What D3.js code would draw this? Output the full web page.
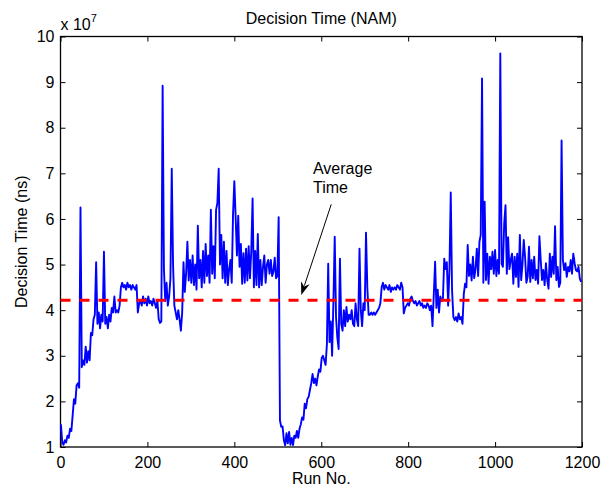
<!DOCTYPE html>
<html>
<head>
<meta charset="utf-8">
<script src="https://cdn.jsdelivr.net/npm/d3@7"></script>
<style>
  body { margin: 0; background: #fff; }
  svg { display: block; }
  text { font-family: "Liberation Sans", Arial, sans-serif; fill: #000; }
  .tick line { stroke: #000; stroke-width: 1; }
</style>
</head>
<body>
<svg class="chart" width="612" height="489"></svg>
<script>
// decision time, in units of 10^7 ns, one reading every 3 runs starting at run 1
const firstRun = 1
const runStep = 3
const decisionTime = [
  1.5, 1.1, 1.05, 1.15, 1.1, 1.25, 1.2, 1.4, 1.35, 1.7,
  2.05, 1.95, 2.35, 2.4, 2.3, 6.25, 2.75, 2.9, 2.8, 3.2,
  2.85, 3.1, 2.9, 3.5, 3.45, 3.8, 3.9, 5.05, 3.7, 3.95,
  3.6, 3.9, 3.75, 5.28, 3.7, 3.85, 3.6, 3.9, 3.75, 4.05,
  3.95, 4.3, 3.95, 4.0, 3.95, 4.1, 4.5, 4.6, 4.5, 4.55,
  4.45, 4.6, 4.5, 4.55, 4.45, 4.55, 4.5, 4.45, 4.55, 3.95,
  4.15, 4.2, 4.1, 4.3, 4.15, 4.25, 4.1, 4.3, 4.15, 4.2,
  4.1, 4.25, 4.15, 4.05, 4.2, 3.8, 3.72, 3.75, 8.92, 4.9,
  4.2, 4.6, 4.1, 4.3, 4.7, 7.1, 5.0, 4.1, 3.95, 3.8,
  4.0, 3.8, 3.55, 3.95, 5.05, 4.4, 4.8, 5.5, 4.65, 5.1,
  4.6, 5.2, 4.55, 5.0, 4.45, 5.85, 4.7, 5.1, 4.5, 5.3,
  4.6, 5.45, 4.75, 5.2, 4.6, 6.2, 4.8, 5.4, 4.7, 6.2,
  6.35, 7.1, 5.0, 5.65, 4.7, 5.5, 4.6, 5.3, 4.55, 4.9,
  5.1, 4.6, 6.1, 6.83, 6.05, 5.2, 6.07, 4.95, 5.45, 4.58,
  5.25, 4.6, 5.35, 4.65, 5.4, 4.7, 5.3, 6.45, 4.5, 5.3,
  4.55, 5.67, 4.5, 5.1, 4.55, 4.95, 5.2, 4.6, 5.0, 5.1,
  4.8, 5.1, 4.75, 4.85, 5.15, 4.7, 4.75, 6.04, 1.58, 1.44,
  1.45, 1.15, 1.04, 1.3, 1.08, 1.33, 1.05, 1.2, 1.04, 1.25,
  1.2, 1.35, 1.2, 1.4, 1.5, 1.65, 1.6, 1.95, 1.85, 2.05,
  2.1, 2.25, 2.4, 2.6, 2.4, 2.5, 2.35, 2.55, 2.7, 2.65,
  2.95, 3.0, 2.9, 2.8, 3.25, 5.02, 3.3, 3.75, 3.0, 4.2,
  5.61, 3.85, 3.4, 3.15, 5.13, 3.7, 3.55, 4.0, 3.65, 4.07,
  3.75, 3.9, 3.8, 4.0, 3.7, 3.65, 4.15, 3.8, 3.65, 5.35,
  4.0, 3.65, 4.15, 4.0, 5.7, 4.5, 3.9, 3.9, 3.95, 3.9,
  3.95, 3.9, 3.95, 4.0, 4.05, 4.15, 4.5, 4.6, 4.45, 4.55,
  4.5, 4.45, 4.55, 4.4, 4.5, 4.45, 4.5, 4.45, 4.55, 4.5,
  4.45, 4.6, 4.5, 3.93, 4.05, 4.1, 4.15, 4.1, 4.25, 4.3,
  4.2, 4.15, 4.2, 4.1, 4.15, 4.2, 4.1, 4.15, 4.05, 4.1,
  4.05, 4.15, 4.1, 4.0, 4.1, 3.65, 4.35, 5.06, 4.05, 4.45,
  3.95, 4.3, 4.2, 4.25, 5.13, 4.9, 5.05, 4.1, 4.9, 6.58,
  4.44, 3.85, 3.78, 3.85, 3.75, 3.93, 3.8, 3.85, 3.7, 4.35,
  4.58, 4.5, 5.43, 4.75, 5.0, 4.65, 5.17, 4.7, 4.9, 5.35,
  4.75, 5.5, 5.65, 9.08, 4.6, 6.38, 4.66, 5.24, 4.58, 5.17,
  4.9, 5.28, 4.8, 5.32, 4.75, 5.1, 4.8, 9.63, 5.02, 4.95,
  5.9, 6.3, 4.8, 5.6, 4.9, 5.1, 5.24, 4.58, 5.17, 4.73,
  5.24, 4.51, 5.65, 4.66, 5.0, 5.54, 5.17, 4.6, 4.73, 5.39,
  4.62, 5.1, 4.7, 5.17, 4.66, 4.88, 4.58, 5.62, 5.1, 4.66,
  4.88, 4.55, 5.03, 4.66, 4.47, 5.24, 4.73, 5.17, 4.8, 5.84,
  4.66, 4.95, 4.51, 4.6, 7.72, 5.1, 4.88, 5.03, 4.73, 4.95,
  4.85, 5.1, 4.8, 5.24, 5.03, 4.88, 4.85, 4.95, 4.69, 4.62
]
const averageTime = 4.22

const xTicks = [0, 200, 400, 600, 800, 1000, 1200]
const yTicks = [1, 2, 3, 4, 5, 6, 7, 8, 9, 10]
const yExponent = "7"

const titleText = "Decision Time (NAM)"
const xLabel = "Run No."
const yLabel = "Decision Time (ns)"
const noteLines = ["Average", "Time"]
// annotation in data units: text corner, arrow tail, arrow tip
const notePos = [581, 6.98]
const arrowFrom = [623, 6.32]
const arrowTo = [554, 4.33]

const svg = d3.select("svg.chart")
const plotLeft = 60.5, plotRight = 582, plotTop = 36.5, plotBottom = 447

const x = d3.scaleLinear().domain([0, 1200]).range([plotLeft, plotRight])
const y = d3.scaleLinear().domain([1, 10]).range([plotBottom, plotTop])

const runs = decisionTime.map((d, i) => firstRun + i * runStep)

// axes, ticks pointing inward on all four sides
svg.append("g")
    .attr("transform", "translate(0," + plotBottom + ")")
    .call(d3.axisBottom(x).tickValues(xTicks).tickFormat(d3.format("d")).tickSize(-5).tickSizeOuter(0).tickPadding(10))
svg.append("g")
    .attr("transform", "translate(0," + plotTop + ")")
    .call(d3.axisTop(x).tickValues(xTicks).tickFormat("").tickSize(-5).tickSizeOuter(0))
svg.append("g")
    .attr("transform", "translate(" + plotLeft + ",0)")
    .call(d3.axisLeft(y).tickValues(yTicks).tickFormat(d3.format("d")).tickSize(-5).tickSizeOuter(0).tickPadding(6))
svg.append("g")
    .attr("transform", "translate(" + plotRight + ",0)")
    .call(d3.axisRight(y).tickValues(yTicks).tickFormat("").tickSize(-5).tickSizeOuter(0))

svg.selectAll(".domain").remove()
svg.selectAll(".tick text")
    .style("font-size", "16px")
    .style("font-family", "'Liberation Sans', Arial, sans-serif")
    .attr("fill", "#000")

svg.append("rect")
    .attr("x", plotLeft)
    .attr("y", plotTop)
    .attr("width", plotRight - plotLeft)
    .attr("height", plotBottom - plotTop)
    .attr("fill", "none")
    .attr("stroke", "#000")
    .attr("stroke-width", 1.3)

// series
const line = d3.line()
    .x((d, i) => x(runs[i]))
    .y(d => y(d))

svg.append("path")
    .datum(decisionTime)
    .attr("d", line)
    .attr("fill", "none")
    .attr("stroke", "#0000ff")
    .attr("stroke-width", 1.9)
    .attr("stroke-linejoin", "round")

// average
svg.append("line")
    .attr("x1", x(0))
    .attr("x2", x(1200))
    .attr("y1", y(averageTime))
    .attr("y2", y(averageTime))
    .attr("stroke", "#ff0000")
    .attr("stroke-width", 3)
    .attr("stroke-dasharray", "10,9")

// texts
svg.append("text")
    .attr("x", (plotLeft + plotRight) / 2)
    .attr("y", 24)
    .attr("text-anchor", "middle")
    .style("font-size", "16px")
    .text(titleText)

svg.append("text")
    .attr("x", (plotLeft + plotRight) / 2)
    .attr("y", 484)
    .attr("text-anchor", "middle")
    .style("font-size", "16px")
    .text(xLabel)

svg.append("text")
    .attr("transform", "translate(27," + ((plotTop + plotBottom) / 2) + ") rotate(-90)")
    .attr("text-anchor", "middle")
    .style("font-size", "16px")
    .text(yLabel)

const mult = svg.append("text")
    .attr("x", plotLeft)
    .attr("y", 30)
    .style("font-size", "16px")
mult.append("tspan").text("x 10")
mult.append("tspan")
    .attr("dy", -8)
    .style("font-size", "11px")
    .text(yExponent)

svg.append("g")
    .selectAll("text")
    .data(noteLines)
    .enter()
    .append("text")
    .attr("x", x(notePos[0]))
    .attr("y", (d, i) => y(notePos[1]) + i * 18.5)
    .style("font-size", "16px")
    .text(d => d)

// arrow
const ax0 = x(arrowFrom[0]), ay0 = y(arrowFrom[1])
const ax1 = x(arrowTo[0]), ay1 = y(arrowTo[1])
const ang = Math.atan2(ay1 - ay0, ax1 - ax0)
const headLen = 13, headHalf = 4.5
const bx = ax1 - headLen * Math.cos(ang), by = ay1 - headLen * Math.sin(ang)
const nx = -Math.sin(ang), ny = Math.cos(ang)

svg.append("line")
    .attr("x1", ax0).attr("y1", ay0)
    .attr("x2", bx + 3 * Math.cos(ang)).attr("y2", by + 3 * Math.sin(ang))
    .attr("stroke", "#000")
    .attr("stroke-width", 1)

svg.append("path")
    .attr("d", "M" + ax1 + "," + ay1 +
        "L" + (bx + headHalf * nx) + "," + (by + headHalf * ny) +
        "L" + (bx + 4 * Math.cos(ang)) + "," + (by + 4 * Math.sin(ang)) +
        "L" + (bx - headHalf * nx) + "," + (by - headHalf * ny) + "Z")
    .attr("fill", "#000")
</script>
</body>
</html>
